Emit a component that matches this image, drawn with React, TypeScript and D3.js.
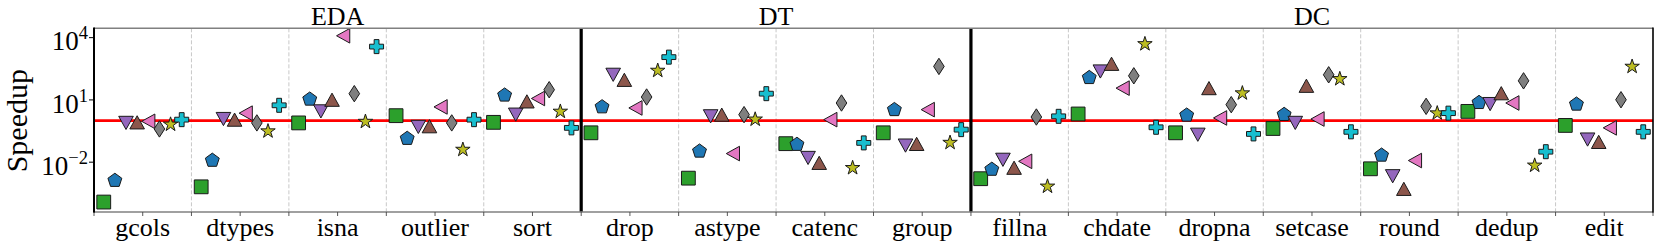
import { useRef, useEffect } from 'react'
import * as d3 from 'd3'

const categories = [
  'gcols', 'dtypes', 'isna', 'outlier', 'sort',
  'drop', 'astype', 'catenc', 'group',
  'fillna', 'chdate', 'dropna', 'setcase', 'round', 'dedup', 'edit',
]
const groupNames = ['EDA', 'DT', 'DC']
const groupSizes = [5, 4, 7]

// speedup per category, one array per marker series
const greenSquare = [1.2e-4, 6.5e-4, 0.78, 1.74, 0.83, 0.26, 1.7e-3, 0.078, 0.26, 1.6e-3, 2.1, 0.26, 0.42, 4.8e-3, 2.8, 0.59]
const bluePentagon = [1.4e-3, 0.013, 11.5, 0.148, 18, 4.9, 0.036, 0.076, 3.6, 4.8e-3, 126, 1.95, 2.1, 0.023, 7.9, 6.6]
const purpleDown = [0.78, 1.2, 2.8, 0.5, 1.95, 162, 1.62, 0.016, 0.063, 0.013, 234, 0.21, 0.78, 2.1e-3, 6.3, 0.123]
const brownUp = [0.83, 1.12, 10.2, 0.54, 8.5, 93, 1.95, 9.3e-3, 0.076, 5.4e-3, 550, 37, 48, 5.2e-4, 21, 0.095]
const pinkLeft = [0.93, 2.3, 12300, 4.6, 11.7, 4.1, 0.026, 1.12, 3.4, 0.011, 37, 1.35, 1.2, 0.012, 7.1, 0.45]
const grayDiamond = [0.4, 0.78, 20, 0.78, 31, 13.8, 1.95, 7.1, 410, 1.5, 145, 5.9, 162, 4.9, 83, 10.2]
const oliveStar = [0.72, 0.34, 0.98, 0.044, 3.0, 282, 1.26, 5.8e-3, 0.095, 7.4e-4, 5400, 23, 112, 2.5, 7.6e-3, 440]
const cyanPlus = [1.12, 5.5, 3700, 1.12, 0.45, 1150, 20, 0.085, 0.37, 1.62, 0.48, 0.23, 0.29, 2.3, 0.032, 0.29]

const tickExponents = [-2, 1, 4]

type Pt = [number, number]

const poly = (pts: Pt[]) => 'M' + pts.map(p => p.join(',')).join('L') + 'Z'

const shapes: Record<string, string> = {
  square: poly([[-6.9, -6.9], [6.9, -6.9], [6.9, 6.9], [-6.9, 6.9]]),
  pentagon: poly(d3.range(5).map(k => {
    const a = (-90 + 72 * k) * Math.PI / 180
    return [7.3 * Math.cos(a), 7.3 * Math.sin(a) + 0.6] as Pt
  })),
  down: poly([[0, 6.6], [-7.3, -6.6], [7.3, -6.6]]),
  up: poly([[0, -6.6], [-7.3, 6.6], [7.3, 6.6]]),
  left: poly([[-6.6, 0], [6.6, -7.3], [6.6, 7.3]]),
  diamond: poly([[0, -8.2], [5.3, 0], [0, 8.2], [-5.3, 0]]),
  star: poly(d3.range(10).map(k => {
    const a = (-90 + 36 * k) * Math.PI / 180
    const r = k % 2 === 0 ? 7.6 : 2.9
    return [r * Math.cos(a), r * Math.sin(a) + 0.8] as Pt
  })),
  plus: poly([
    [-2.4, -7], [2.4, -7], [2.4, -2.4], [7, -2.4], [7, 2.4], [2.4, 2.4],
    [2.4, 7], [-2.4, 7], [-2.4, 2.4], [-7, 2.4], [-7, -2.4], [-2.4, -2.4],
  ]),
}

const series = [
  { values: greenSquare, color: '#2ca02c', shape: 'square' },
  { values: bluePentagon, color: '#1f77b4', shape: 'pentagon' },
  { values: purpleDown, color: '#9467bd', shape: 'down' },
  { values: brownUp, color: '#8c564b', shape: 'up' },
  { values: pinkLeft, color: '#e377c2', shape: 'left' },
  { values: grayDiamond, color: '#7f7f7f', shape: 'diamond' },
  { values: oliveStar, color: '#bcbd22', shape: 'star' },
  { values: cyanPlus, color: '#17becf', shape: 'plus' },
]

const App = () => {
  const ref = useRef<SVGSVGElement>(null)

  useEffect(() => {
    if (!ref.current) return
    const svg = d3.select(ref.current)
    svg.selectAll('*').remove()
    const left = 94
    const right = 1653
    const top = 28.3
    const bottom = 212
    const font = 'Liberation Serif, Times New Roman, serif'

    const x = d3.scaleLinear().domain([-0.5, categories.length - 0.5]).range([left, right])
    const y = d3.scaleLog().domain([10 ** -4.4, 10 ** 4.45]).range([bottom, top])

    // group boundaries
    const groupEdges: number[] = []
    let acc = 0
    groupSizes.forEach(n => { acc += n; groupEdges.push(acc - 0.5) })
    groupEdges.pop()

    const g = svg.append('g')

    // dashed category separators
    d3.range(categories.length - 1).map(i => i + 0.5)
      .filter(v => !groupEdges.includes(v))
      .forEach(v => {
        g.append('line')
          .attr('x1', x(v)).attr('x2', x(v))
          .attr('y1', top).attr('y2', bottom)
          .attr('stroke', '#c8c8c8')
          .attr('stroke-width', 1)
          .attr('stroke-dasharray', '4,2')
      })

    // reference line at speedup = 1
    g.append('line')
      .attr('x1', left).attr('x2', right)
      .attr('y1', y(1)).attr('y2', y(1))
      .attr('stroke', '#ff0000')
      .attr('stroke-width', 2.8)

    // markers
    const step = 0.8 / (series.length - 1)
    series.forEach((s, si) => {
      g.selectAll(null)
        .data(s.values)
        .enter()
        .append('path')
        .attr('d', shapes[s.shape])
        .attr('transform', (d, i) => `translate(${x(i - 0.4 + si * step)},${y(d)})`)
        .attr('fill', s.color)
        .attr('stroke', '#1a1a1a')
        .attr('stroke-width', 1)
        .attr('stroke-linejoin', 'miter')
    })

    // group dividers
    groupEdges.forEach(v => {
      g.append('line')
        .attr('x1', x(v)).attr('x2', x(v))
        .attr('y1', top).attr('y2', bottom)
        .attr('stroke', '#000')
        .attr('stroke-width', 3.2)
    })

    // spines
    g.append('line').attr('x1', left).attr('x2', right).attr('y1', top).attr('y2', top)
      .attr('stroke', '#808080').attr('stroke-width', 1.6)
    g.append('line').attr('x1', left).attr('x2', right).attr('y1', bottom).attr('y2', bottom)
      .attr('stroke', '#808080').attr('stroke-width', 1.6)
    g.append('line').attr('x1', left).attr('x2', left).attr('y1', top - 0.8).attr('y2', bottom + 0.8)
      .attr('stroke', '#000').attr('stroke-width', 2)
    g.append('line').attr('x1', right).attr('x2', right).attr('y1', top - 0.8).attr('y2', bottom + 0.8)
      .attr('stroke', '#000').attr('stroke-width', 1.6)

    // x ticks at centers and boundaries
    d3.range(-0.5, categories.length, 0.5).forEach(v => {
      g.append('line')
        .attr('x1', x(v)).attr('x2', x(v))
        .attr('y1', bottom).attr('y2', bottom + 4)
        .attr('stroke', '#444').attr('stroke-width', 0.9)
    })
    g.selectAll(null)
      .data(categories)
      .enter()
      .append('text')
      .attr('x', (d, i) => x(i))
      .attr('y', 236)
      .attr('text-anchor', 'middle')
      .attr('font-family', font)
      .attr('font-size', 26)
      .text(d => d)

    // y ticks
    tickExponents.forEach(e => {
      const ty = y(10 ** e)
      g.append('line')
        .attr('x1', left - 5).attr('x2', left)
        .attr('y1', ty).attr('y2', ty)
        .attr('stroke', '#000').attr('stroke-width', 1)
      const t = g.append('text')
        .attr('x', left - 6)
        .attr('y', ty + 12.8)
        .attr('text-anchor', 'end')
        .attr('font-family', font)
        .attr('font-size', 27)
      t.append('tspan').text('10')
      t.append('tspan')
        .attr('dy', -11)
        .attr('font-size', 18.5)
        .text(e < 0 ? `\u2212${-e}` : `${e}`)
    })

    // y label
    g.append('text')
      .attr('transform', `translate(27,${y(1)}) rotate(-90)`)
      .attr('text-anchor', 'middle')
      .attr('font-family', font)
      .attr('font-size', 30)
      .text('Speedup')

    // group titles
    let start = 0
    groupNames.forEach((name, gi) => {
      const end = start + groupSizes[gi] - 1
      g.append('text')
        .attr('x', x((start + end) / 2))
        .attr('y', 25)
        .attr('text-anchor', 'middle')
        .attr('font-family', font)
        .attr('font-size', 26)
        .text(name)
      start = end + 1
    })
  }, [])

  return (
    <svg
      ref={ref}
      width={1661}
      height={249}
      style={{ position: 'absolute', left: 0, top: 0, background: '#fff' }}
    />
  )
}

export default App
